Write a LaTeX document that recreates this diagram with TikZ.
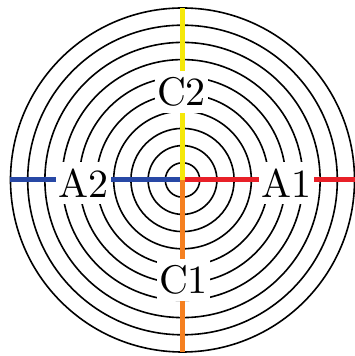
\documentclass[tikz,border=0pt]{standalone}
\usetikzlibrary{calc}
\definecolor{cred}{RGB}{232,32,40}
\definecolor{cblue}{RGB}{40,72,165}
\definecolor{cyellow}{RGB}{245,232,10}
\definecolor{corange}{RGB}{245,128,32}
\tikzset{
  ring/.style={draw=black, line width=0.4pt},
  ray/.style={line width=1.25pt},
  lbl/.style={fill=white, inner xsep=0.6pt, inner ysep=1.6pt, font=\normalsize}
}
\begin{document}
\begin{tikzpicture}[scale=0.0087865]
\useasboundingbox (-182.5,-176) rectangle (172.5,180);
\coordinate (O) at (0,0);
\coordinate (E) at (172.5,0);
\coordinate (W) at (-172.5,0);
\coordinate (N) at (0,172);
\coordinate (S) at (0,-172);
\foreach \k in {1,...,10} {
  \draw[ring] (O) circle ({17.2*\k});
}
\draw[ray, cred] (O) -- (E);
\draw[ray, cblue] (O) -- (W);
\draw[ray, cyellow] (O) -- (N);
\draw[ray, corange] (O) -- (S);
\node[lbl] (A1) at (104,-3) {A1};
\node[lbl] (A2) at (-99,-3) {A2};
\node[lbl] (C2) at (-1,88) {C2};
\node[lbl] (C1) at (1,-100) {C1};
\end{tikzpicture}
\end{document}
